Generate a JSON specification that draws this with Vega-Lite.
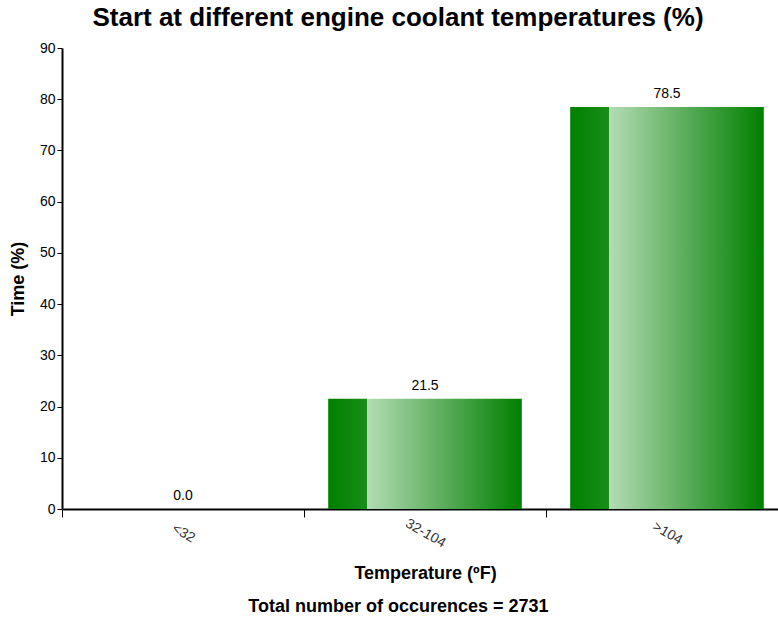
{
  "$schema": "https://vega.github.io/schema/vega-lite/v6.json",
  "width": 726,
  "height": 461,
  "autosize": {"type": "none"},
  "padding": {"left": 62, "top": 48, "right": 0, "bottom": 110},
  "config": {
    "view": {"stroke": null},
    "font": "Liberation Sans",
    "axis": {"grid": false, "labelFont": "Liberation Sans", "titleFont": "Liberation Sans"}
  },
  "title": {
    "text": "Start at different engine coolant temperatures (%)",
    "fontSize": 26,
    "fontWeight": "bold",
    "font": "Liberation Sans",
    "color": "#000000",
    "anchor": "middle",
    "dx": -27,
    "offset": 10
  },
  "data": {
    "values": [
      {"temp": "<32", "pct": 0.0},
      {"temp": "32-104", "pct": 21.5},
      {"temp": ">104", "pct": 78.5}
    ]
  },
  "layer": [
    {
      "mark": {
        "type": "bar",
        "width": {"band": 0.8},
        "color": {
          "gradient": "linear",
          "x1": 0, "y1": 0, "x2": 1, "y2": 0,
          "stops": [
            {"offset": 0, "color": "#008000"},
            {"offset": 0.2, "color": "#1a8d1a"},
            {"offset": 0.2, "color": "#b4dcb4"},
            {"offset": 0.6, "color": "#5aac5a"},
            {"offset": 1, "color": "#008000"}
          ]
        }
      },
      "encoding": {
        "x": {
          "field": "temp",
          "type": "nominal",
          "sort": null,
          "scale": {"paddingInner": 0, "paddingOuter": 0},
          "axis": {
            "orient": "bottom",
            "title": "Temperature (ºF)",
            "titleFontSize": 18,
            "titleFontWeight": "bold",
            "titleColor": "#000000",
            "titlePadding": 15,
            "labelAngle": 30,
            "labelAlign": "center",
            "labelBaseline": "middle",
            "labelPadding": 16,
            "labelFontSize": 14,
            "labelColor": "#333333",
            "tickBand": "extent",
            "tickSize": 8,
            "tickColor": "#000000",
            "tickWidth": 1,
            "domainColor": "#000000",
            "domainWidth": 2
          }
        },
        "y": {
          "field": "pct",
          "type": "quantitative",
          "scale": {"domain": [0, 90], "nice": false},
          "axis": {
            "values": [0, 10, 20, 30, 40, 50, 60, 70, 80, 90],
            "title": "Time (%)",
            "titleFontSize": 18,
            "titleFontWeight": "bold",
            "titleColor": "#000000",
            "titlePadding": 12,
            "labelFontSize": 14,
            "labelColor": "#000000",
            "tickSize": 5,
            "tickColor": "#000000",
            "domainColor": "#000000",
            "domainWidth": 2
          }
        }
      }
    },
    {
      "mark": {"type": "text", "dy": -13, "fontSize": 14, "color": "#000000", "font": "Liberation Sans"},
      "encoding": {
        "x": {
          "field": "temp",
          "type": "nominal",
          "sort": null,
          "axis": {
            "orient": "bottom",
            "title": "Total number of occurences = 2731",
            "titleFontSize": 18,
            "titleFontWeight": "bold",
            "titleColor": "#000000",
            "titleX": 336,
            "titleY": 97,
            "titleBaseline": "middle",
            "titlePadding": 0,
            "labels": false,
            "ticks": false,
            "domain": false
          }
        },
        "y": {"field": "pct", "type": "quantitative"},
        "text": {"field": "pct", "type": "quantitative", "format": ".1f"}
      }
    }
  ],
  "resolve": {"axis": {"x": "independent"}}
}
